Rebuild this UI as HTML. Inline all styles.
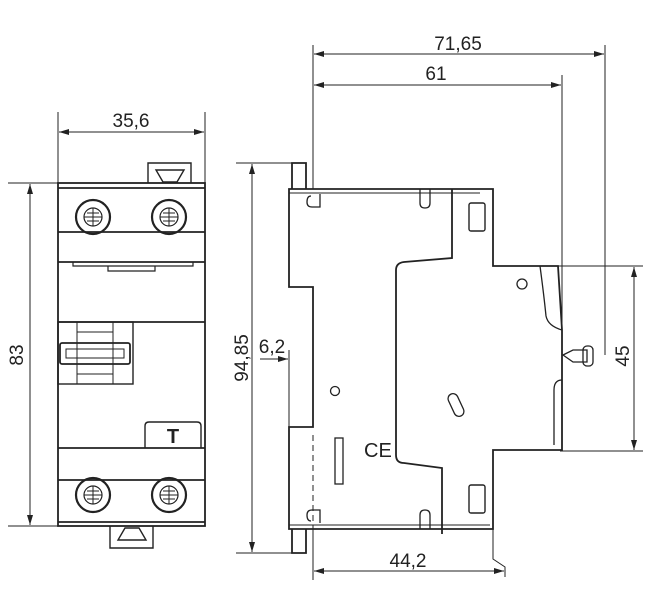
<!DOCTYPE html>
<html><head><style>body{margin:0;background:#fff}svg{display:block}text{font-family:"Liberation Sans",sans-serif;font-size:19px;fill:#222}</style></head>
<body>
<svg width="650" height="611" viewBox="0 0 650 611" xmlns="http://www.w3.org/2000/svg">
<defs><marker id="a" markerWidth="10" markerHeight="6" refX="10" refY="3" orient="auto-start-reverse" markerUnits="userSpaceOnUse"><path d="M0,0L10,3L0,6z" fill="#222"/></marker></defs>
<g stroke="#222" fill="none" stroke-width="1">
<line x1="58" y1="112" x2="58" y2="183"/><line x1="205" y1="112" x2="205" y2="183"/>
<line x1="59" y1="132" x2="204" y2="132" marker-start="url(#a)" marker-end="url(#a)"/>
<line x1="8" y1="183" x2="58" y2="183"/><line x1="8" y1="526" x2="58" y2="526"/>
<line x1="30" y1="184" x2="30" y2="525" marker-start="url(#a)" marker-end="url(#a)"/>
</g>
<g stroke="#222" fill="none" stroke-width="1.8">
<rect x="58" y="183" width="147" height="343" fill="#fff"/>
<line x1="58" y1="188" x2="205" y2="188"/><line x1="58" y1="232" x2="205" y2="232"/>
<line x1="58" y1="262" x2="205" y2="262"/><line x1="58" y1="322" x2="205" y2="322"/>
<line x1="58" y1="448" x2="205" y2="448"/><line x1="58" y1="480" x2="205" y2="480"/>
<line x1="58" y1="522" x2="205" y2="522"/>
<path d="M73 262v4h120v-4M108 266v5h47v-5" stroke-width="1.2"/>
<path d="M148 183v-20h43v20M156 170h28l-7 12h-14z" stroke-width="1.4"/>
<path d="M110 526v22h43v-22M118 540h28l-7-12h-14z" stroke-width="1.4"/>
<rect x="58" y="322" width="75" height="62" stroke-width="1.4"/>
<rect x="60" y="343" width="70" height="21" rx="2"/>
<rect x="66" y="349" width="58" height="9" stroke-width="1"/>
<path d="M77 322v62M113 322v62M77 332h36M77 374h36" stroke-width="1"/>
<path d="M145 448v-22q0-4 4-4h48q4 0 4 4v22" stroke-width="1.4"/>
<g stroke-width="2.2">
<circle cx="93" cy="217" r="17"/><circle cx="169" cy="217" r="17"/>
<circle cx="93" cy="495" r="17"/><circle cx="169" cy="495" r="17"/>
<circle cx="93" cy="217" r="9" stroke-width="1.2"/><circle cx="169" cy="217" r="9" stroke-width="1.2"/>
<circle cx="93" cy="495" r="9" stroke-width="1.2"/><circle cx="169" cy="495" r="9" stroke-width="1.2"/>
<path d="M84 217h18M93 208v18M160 217h18M169 208v18M84 495h18M93 486v18M160 495h18M169 486v18M87 213h12M87 221h12M163 213h12M163 221h12M87 491h12M87 499h12M163 491h12M163 499h12" stroke-width="1"/>
</g>
</g>
<text x="173" y="443" font-weight="bold" text-anchor="middle" style="font-size:20px">T</text>
<text x="131" y="127" text-anchor="middle">35,6</text>
<text transform="translate(23,355) rotate(-90)" text-anchor="middle">83</text>
<g stroke="#222" fill="none" stroke-width="1">
<line x1="313" y1="45" x2="313" y2="580"/>
<line x1="605" y1="45" x2="605" y2="355"/>
<line x1="562" y1="75" x2="562" y2="330"/>
<line x1="314" y1="54" x2="604" y2="54" marker-start="url(#a)" marker-end="url(#a)"/>
<line x1="314" y1="85" x2="561" y2="85" marker-start="url(#a)" marker-end="url(#a)"/>
<line x1="236" y1="163" x2="300" y2="163"/><line x1="236" y1="553" x2="300" y2="553"/>
<line x1="252" y1="164" x2="252" y2="552" marker-start="url(#a)" marker-end="url(#a)"/>
<line x1="260" y1="359" x2="288" y2="359" marker-end="url(#a)"/>
<line x1="289" y1="350" x2="289" y2="430"/>
<line x1="325" y1="359" x2="314" y2="359" marker-end="url(#a)"/>
<line x1="500" y1="266" x2="643" y2="266"/><line x1="560" y1="451" x2="643" y2="451"/>
<line x1="634" y1="267" x2="634" y2="450" marker-start="url(#a)" marker-end="url(#a)"/>
<line x1="314" y1="571" x2="504" y2="571" marker-start="url(#a)" marker-end="url(#a)"/>
<path d="M493 529v30l12 8v10"/>
</g>
<g stroke="#222" fill="none" stroke-width="1.8">
<path d="M289 189H493V266H540L558 266L562 330V450L493 450V529H289V427H313V287H289Z" fill="#fff"/>
<path d="M292 189v-26h14v26M292 529v24h14v-24"/>
<path d="M289 193H480M289 525H490" stroke-width="1"/>
<path d="M452 189v69l-48 4q-8 1-8 8v185q0 8 8 8l38 5v66"/>
<path d="M540 266q4 30 6 50q2 10 16 14M562 380q-8 0-8 10v55" stroke-width="1.3"/>
<path d="M311 196q-4 0-4 6q0 5 5 5h8v-13M420 189v14q0 5 5 5t5-5v-14" stroke-width="1.3"/>
<path d="M311 521q-4 0-4-6q0-5 5-5h8v13M420 529v-14q0-5 5-5t5 5v14" stroke-width="1.3"/>
<rect x="469" y="203" width="16" height="28" rx="2" stroke-width="1.4"/>
<rect x="469" y="485" width="16" height="28" rx="2" stroke-width="1.4"/>
<circle cx="522" cy="284" r="5" stroke-width="1.3"/>
<circle cx="335" cy="391" r="4.5" stroke-width="1.3"/>
<rect x="451" y="393" width="10" height="24" rx="5" transform="rotate(-25 456 405)" stroke-width="1.3"/>
<rect x="335" y="438" width="8" height="46" stroke-width="1.3"/>
<path d="M313 435v95" stroke-dasharray="6 4" stroke-width="1"/>
<path d="M563 355l10-5h14v12h-14z" stroke-width="1.3"/>
<rect x="583" y="346" width="10" height="20" rx="4" stroke-width="1.3"/>
</g>
<text x="364" y="457" style="font-size:20px">CE</text>
<text x="458" y="50" text-anchor="middle">71,65</text>
<text x="436" y="80" text-anchor="middle">61</text>
<text x="272" y="353" text-anchor="middle">6,2</text>
<text transform="translate(248,358) rotate(-90)" text-anchor="middle">94,85</text>
<text transform="translate(629,356) rotate(-90)" text-anchor="middle">45</text>
<text x="408" y="567" text-anchor="middle">44,2</text>
</svg>
</body></html>
